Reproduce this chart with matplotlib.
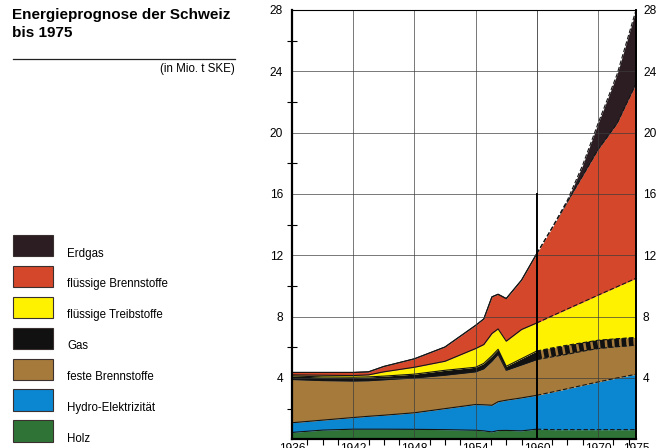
import numpy as np
import matplotlib
matplotlib.use("Agg")
import matplotlib.pyplot as plt
from matplotlib.patches import Rectangle

plt.rcParams["font.family"] = ["Liberation Sans", "DejaVu Sans"]

# years at the drawn kinks (history until 1960, forecast after)
years = [1936, 1939, 1942, 1943.5, 1945, 1948, 1951, 1954, 1954.8, 1955.6,
         1956.2, 1957, 1958.5, 1960, 1962.5, 1965, 1967.5, 1970, 1972.5, 1975]

# upper edge of each stacked layer, Mio. t SKE
holz_top = [0.45, 0.60, 0.66, 0.66, 0.66, 0.65, 0.63, 0.59, 0.55, 0.48,
            0.57, 0.58, 0.55, 0.66, 0.63, 0.63, 0.63, 0.63, 0.63, 0.63]
hydro_top = [1.08, 1.25, 1.42, 1.50, 1.57, 1.73, 2.00, 2.27, 2.25, 2.22,
             2.45, 2.55, 2.70, 2.87, 3.08, 3.30, 3.52, 3.74, 4.00, 4.24]
fest_top = [3.90, 3.83, 3.80, 3.82, 3.88, 4.00, 4.18, 4.40, 4.60, 5.10,
            5.55, 4.50, 4.85, 5.20, 5.38, 5.55, 5.75, 5.92, 6.04, 6.14]
gas_top = [4.13, 4.07, 4.05, 4.07, 4.12, 4.25, 4.50, 4.70, 4.95, 5.45,
           5.87, 4.76, 5.26, 5.76, 5.96, 6.14, 6.30, 6.46, 6.56, 6.64]
treib_top = [4.20, 4.18, 4.16, 4.20, 4.40, 4.70, 5.09, 5.92, 6.18, 6.90,
             7.20, 6.40, 7.16, 7.59, 8.05, 8.50, 8.95, 9.40, 9.95, 10.50]
brenn_top = [4.36, 4.36, 4.36, 4.40, 4.75, 5.25, 6.02, 7.43, 7.85, 9.29,
             9.46, 9.18, 10.38, 12.12, 13.80, 15.50, 17.20, 18.90, 20.60, 23.20]
erdgas_top = [4.36, 4.36, 4.36, 4.40, 4.75, 5.25, 6.02, 7.43, 7.85, 9.29,
              9.46, 9.18, 10.38, 12.12, 13.80, 15.60, 17.90, 20.60, 23.80, 28.00]

labels = ["Erdgas", "flüssige Brennstoffe", "flüssige Treibstoffe", "Gas",
          "feste Brennstoffe", "Hydro-Elektrizität", "Holz"]
colors = ["#2b1d22", "#d4472a", "#fff200", "#111111",
          "#a57a3b", "#0b87d1", "#2f7436"]

# x axis labels (the drawing is not linear in time)
tick_years = [1936, 1942, 1948, 1954, 1960, 1970, 1975]
tick_pos = [0, 1, 2, 3, 4, 5, 5.62]
forecast_start = 1960


def fwd(y):
    return np.interp(y, tick_years, tick_pos)


def inv(u):
    return np.interp(u, tick_pos, tick_years)


yrs = np.array(years)
tops = [np.zeros(len(yrs)), holz_top, hydro_top, fest_top, gas_top,
        treib_top, brenn_top, erdgas_top]
tops = [np.array(t) for t in tops]

fig = plt.figure(figsize=(6.6, 4.48), dpi=100)

# left panel in pixel coords
pan = fig.add_axes([0, 0, 1, 1])
pan.set_xlim(0, 660)
pan.set_ylim(448, 0)
pan.axis("off")
pan.text(12, 8, "Energieprognose der Schweiz\nbis 1975", fontsize=11,
         weight="bold", va="top", ha="left", linespacing=1.32)
pan.plot([13, 235], [59.3, 59.3], color="#222222", lw=0.9)
pan.text(235, 69, "(in Mio. t SKE)", fontsize=8.3, ha="right", va="center")
for i, (lab, c) in enumerate(zip(labels, colors)):
    y0 = 235 + i * 30.9
    pan.add_patch(Rectangle((13, y0), 40, 21.5, facecolor=c,
                            edgecolor="#3a3030", lw=0.8))
    pan.text(67, y0 + 18.5, lab, fontsize=8.3, ha="left", va="center")

ax = fig.add_axes([292 / 660, 1 - 439.3 / 448, 344 / 660, 429.3 / 448])
ax.set_xscale("function", functions=(fwd, inv))
ax.set_xlim(1936, 1975)
ax.set_ylim(0, 28)

layer_colors = colors[::-1]  # bottom (Holz) to top (Erdgas)
for k in range(7):
    ax.fill_between(yrs, tops[k], tops[k + 1], color=layer_colors[k],
                    lw=0, zorder=2)

# forecast part of the Gas band: black blocks on brown
fc = yrs >= forecast_start
ax.fill_between(yrs[fc], tops[3][fc], tops[4][fc], color=layer_colors[2],
                lw=0, zorder=2.5)
px_per_unit = 429.3 / 28
band = np.mean(tops[4][fc] - tops[3][fc])
ax.plot(yrs[fc], (tops[3][fc] + tops[4][fc]) / 2, color="#111111",
        lw=band * px_per_unit * 0.72, dashes=(0.55, 0.3),
        solid_capstyle="butt", dash_capstyle="butt", zorder=2.6)

# boundary lines, dashed in the forecast
hist = yrs <= forecast_start
for k in [1, 2, 3, 4, 5, 6, 7]:
    ax.plot(yrs[hist], tops[k][hist], color="#151515", lw=0.8, zorder=3)
    ax.plot(yrs[fc], tops[k][fc], color="#151515", lw=0.8,
            dashes=(4, 2), zorder=3)

# grid
for v in range(4, 28, 4):
    ax.axhline(v, color="#3a3a3a", lw=0.6, alpha=0.8, zorder=3.5)
for yv in [1942, 1948, 1954, 1970]:
    ax.axvline(yv, color="#3a3a3a", lw=0.6, alpha=0.8, zorder=3.5)
ax.plot([forecast_start, forecast_start], [0, 16], color="black", lw=1.4,
        zorder=4)
ax.plot([forecast_start, forecast_start], [16, 28], color="#3a3a3a", lw=0.6,
        zorder=3.5)

# y ticks: left on ax, right on a twin with a smaller pad
ax.set_yticks(range(4, 29, 4))
ax.set_yticks(range(2, 28, 4), minor=True)
ax.tick_params(axis="y", which="major", length=0, pad=6.5, labelsize=8.6,
               left=True, right=False, labelleft=True, labelright=False)
ax.tick_params(axis="y", which="minor", direction="inout", length=7,
               width=0.8, left=True, right=True)
ax_r = ax.twinx()
ax_r.set_ylim(0, 28)
ax_r.set_yticks(range(4, 29, 4))
ax_r.tick_params(axis="y", which="major", length=0, pad=5, labelsize=8.6)
ax_r.set_yticks([], minor=True)
for s in ax_r.spines.values():
    s.set_visible(False)

ax.set_xticks(tick_years)
ax.set_xticklabels([str(t) for t in tick_years])
minor_u = [u for u in np.arange(0.25, 5.6, 0.25) if abs(u - round(u)) > 0.01]
ax.set_xticks(inv(np.array(minor_u)), minor=True)
ax.tick_params(axis="x", which="major", length=0, pad=2.5, labelsize=8.6)
ax.tick_params(axis="x", which="minor", direction="out", length=4,
               width=0.8)

ax.spines["left"].set_linewidth(1.6)
ax.spines["right"].set_linewidth(1.4)
ax.spines["bottom"].set_linewidth(1.6)
ax.spines["top"].set_linewidth(0.8)
for s in ax.spines.values():
    s.set_zorder(5)

fig.savefig("out.png", dpi=100)
